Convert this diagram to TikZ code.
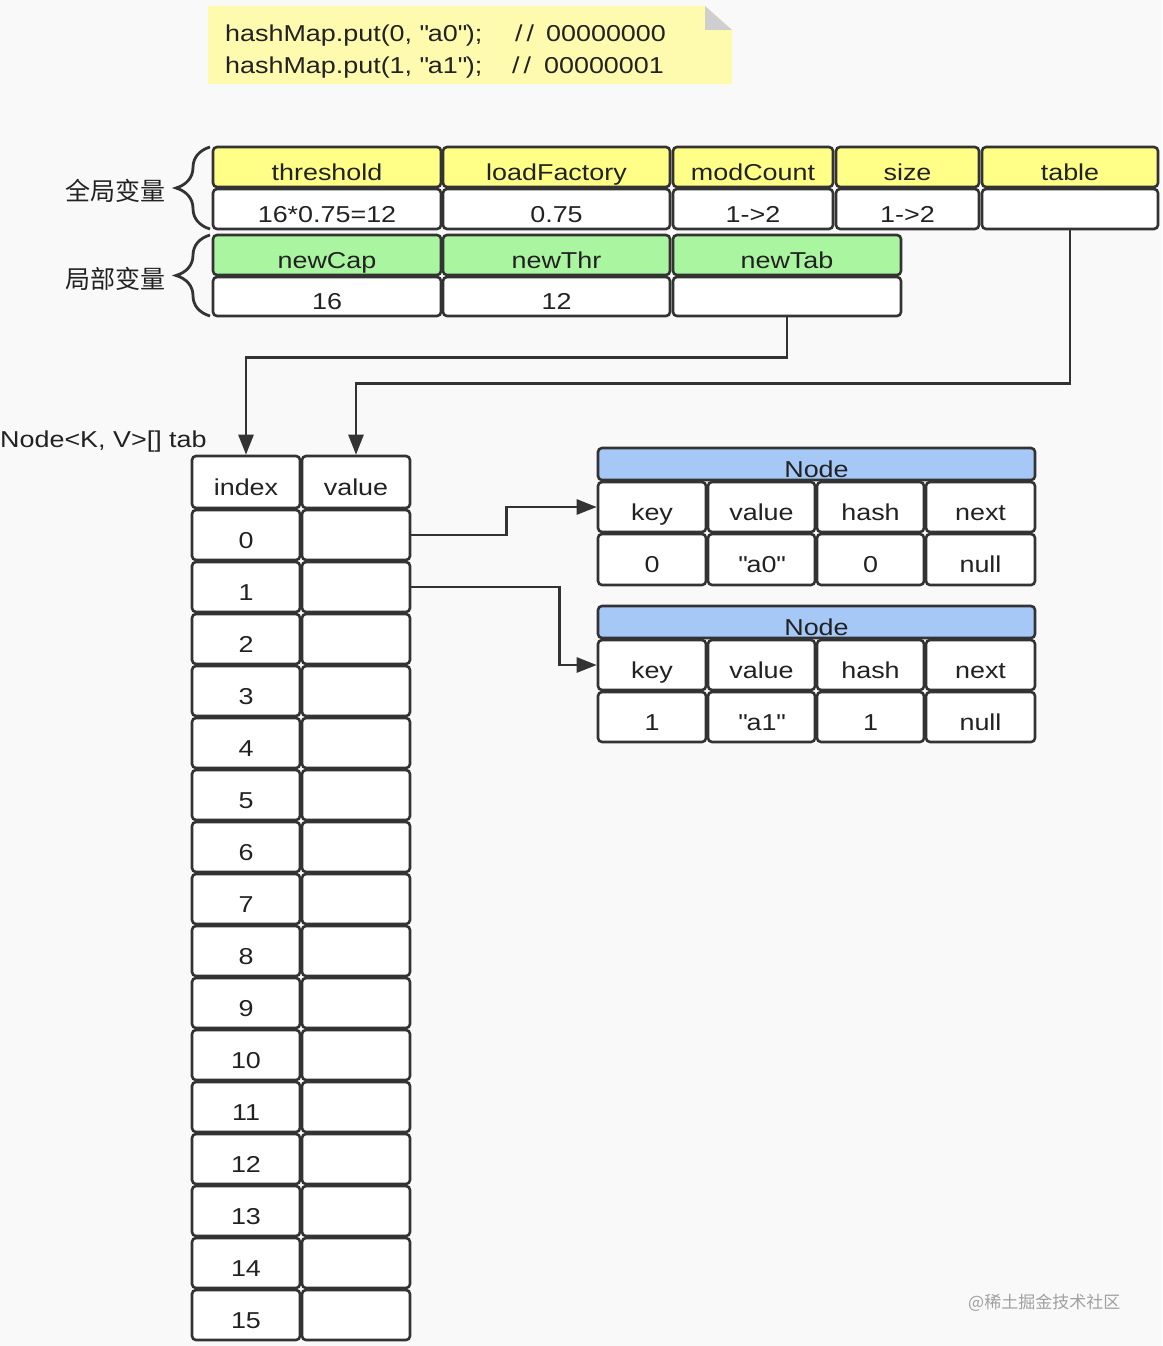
\documentclass[tikz,border=0pt]{standalone}
\usepackage{fontspec}
\setmainfont{Liberation Sans}[FakeStretch=1.17]
\newfontfamily\cjk{Noto Sans CJK SC}
\usetikzlibrary{arrows.meta,decorations.pathreplacing,calc}
\definecolor{bg}{HTML}{F9F9F9}
\definecolor{hdY}{HTML}{FFFF88}
\definecolor{hdG}{HTML}{A9F5A0}
\definecolor{hdB}{HTML}{A5C8F7}
\definecolor{noteY}{HTML}{FFFBAE}
\definecolor{foldG}{HTML}{CFCFCF}
\definecolor{ln}{HTML}{333333}
\definecolor{tx}{HTML}{222222}
\definecolor{wm}{HTML}{A0A0A0}
\tikzset{
  cell/.style={draw=ln, line width=2.6pt, rounded corners=4pt, inner sep=0pt,
    font=\fontsize{23}{26}\selectfont, text=tx, text height=28pt, text depth=2pt},
  arr/.style={draw=ln, line width=2.6pt, -{Triangle[length=20pt,width=15pt]}},
  txt/.style={inner sep=0pt, font=\fontsize{23}{26}\selectfont, text=tx},
  cjktxt/.style={inner sep=0pt, font=\cjk\fontsize{25}{28}\selectfont, text=tx},
  bracestyle/.style={draw=ln, line width=2.8pt, decorate, decoration={brace, amplitude=34pt}},
}
\newcommand\qd{\textquotedbl}
\newcommand\mkcell[7]{\node[cell, fill=#6, minimum width={#4-#2}, minimum height={#5-#3}] (#1) at ({(#2+#4)/2},{(#3+#5)/2}) {#7};}
\begin{document}
\begin{tikzpicture}[x=1pt,y=-1pt]
\fill[bg] (0,0) rectangle (1162,1346);
\useasboundingbox (0,0) rectangle (1162,1346);
% note
\fill[noteY] (208,6) -- (705,6) -- (732,30) -- (732,84) -- (208,84) -- cycle;
\fill[foldG] (705,6) -- (732,30) -- (705,30) -- cycle;
\node[txt, anchor=base west] (c1) at (225,42) {hashMap.put(0, \qd a0\qd);};
\node[txt, anchor=base west] (m1) at (515,42) {/\hspace{4pt}/\hspace{12pt}00000000};
\node[txt, anchor=base west] (c2) at (225,74) {hashMap.put(1, \qd a1\qd);};
\node[txt, anchor=base west] (m2) at (512,74) {/\hspace{4pt}/\hspace{13pt}00000001};
% global variables
\mkcell{gh1}{213}{147}{441}{187}{hdY}{threshold}
\mkcell{gh2}{443}{147}{670}{187}{hdY}{loadFactory}
\mkcell{gh3}{673}{147}{833}{187}{hdY}{modCount}
\mkcell{gh4}{836}{147}{979}{187}{hdY}{size}
\mkcell{gh5}{982}{147}{1158}{187}{hdY}{table}
\mkcell{gv1}{213}{189}{441}{229}{white}{16*0.75=12}
\mkcell{gv2}{443}{189}{670}{229}{white}{0.75}
\mkcell{gv3}{673}{189}{833}{229}{white}{1->2}
\mkcell{gv4}{836}{189}{979}{229}{white}{1->2}
\mkcell{gv5}{982}{189}{1158}{229}{white}{}
% local variables
\mkcell{lh1}{213}{235}{441}{275}{hdG}{newCap}
\mkcell{lh2}{443}{235}{670}{275}{hdG}{newThr}
\mkcell{lh3}{673}{235}{901}{275}{hdG}{newTab}
\mkcell{lv1}{213}{277}{441}{316}{white}{16}
\mkcell{lv2}{443}{277}{670}{316}{white}{12}
\mkcell{lv3}{673}{277}{901}{316}{white}{}
% braces and labels
\draw[bracestyle] (210,229) -- (210,147);
\draw[bracestyle] (210,316) -- (210,235);
\node[cjktxt, anchor=base east] (glab) at (166,200) {全局变量};
\node[cjktxt, anchor=base east] (llab) at (166,288) {局部变量};
% tab label
\node[txt, anchor=base west] (tablab) at (0,447) {Node<K, V>[] tab};
% table
\mkcell{ih}{192}{456}{300}{508}{white}{index}
\mkcell{vh}{302}{456}{410}{508}{white}{value}
\foreach \i in {0,...,15}{
  \pgfmathtruncatemacro\ta{510+52*\i}
  \pgfmathtruncatemacro\tb{560+52*\i}
  \mkcell{i\i}{192}{\ta}{300}{\tb}{white}{\i}
  \mkcell{v\i}{302}{\ta}{410}{\tb}{white}{}
}
% nodes
\mkcell{na}{598}{448}{1035}{480}{hdB}{Node}
\mkcell{nak}{598}{482}{706}{532}{white}{key}
\mkcell{nav}{708}{482}{815}{532}{white}{value}
\mkcell{nah}{817}{482}{924}{532}{white}{hash}
\mkcell{nan}{926}{482}{1035}{532}{white}{next}
\mkcell{nak2}{598}{534}{706}{585}{white}{0}
\mkcell{nav2}{708}{534}{815}{585}{white}{\qd a0\qd}
\mkcell{nah2}{817}{534}{924}{585}{white}{0}
\mkcell{nan2}{926}{534}{1035}{585}{white}{null}
\mkcell{nb}{598}{606}{1035}{638}{hdB}{Node}
\mkcell{nbk}{598}{640}{706}{690}{white}{key}
\mkcell{nbv}{708}{640}{815}{690}{white}{value}
\mkcell{nbh}{817}{640}{924}{690}{white}{hash}
\mkcell{nbn}{926}{640}{1035}{690}{white}{next}
\mkcell{nbk2}{598}{692}{706}{742}{white}{1}
\mkcell{nbv2}{708}{692}{815}{742}{white}{\qd a1\qd}
\mkcell{nbh2}{817}{692}{924}{742}{white}{1}
\mkcell{nbn2}{926}{692}{1035}{742}{white}{null}
% connectors
\draw[arr] (lv3.south) -- ++(0,40) -| (ih.north);
\draw[arr] (gv5.south) -- ++(0,153) -| (vh.north);
\draw[arr] (v0.east) -- ++(95,0) |- (nak.west);
\draw[arr] (v1.east) -- ++(148,0) |- (nbk.west);
% watermark
\node[inner sep=0pt, anchor=base west, font=\cjk\fontsize{17}{20}\selectfont, text=wm] (wmk) at (968,1308) {@稀土掘金技术社区};
\end{tikzpicture}
\end{document}
